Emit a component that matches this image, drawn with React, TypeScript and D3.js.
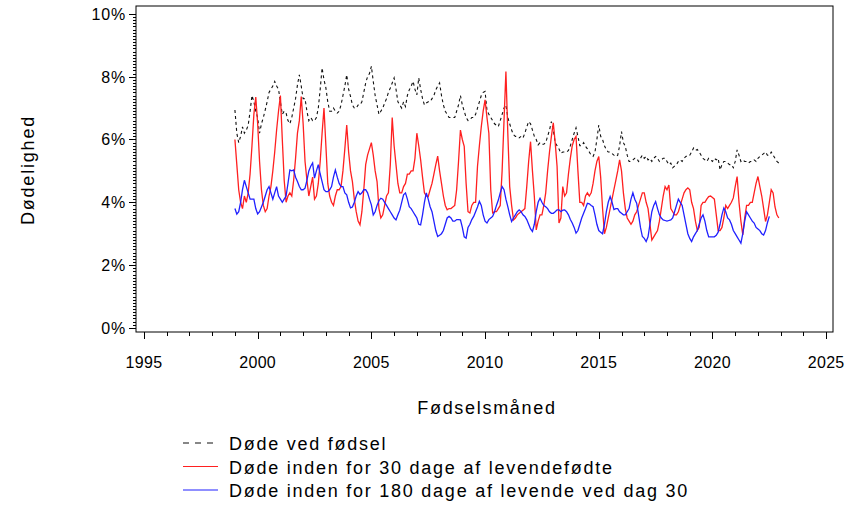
import React, { useEffect, useRef } from 'react'
import * as d3 from 'd3'

const START_YEAR = 1999

// monthly values in %, one row per year (Jan..Dec)
const stillborn = [
  6.94, 6.2, 5.9, 6.1, 6.4, 6.2, 6.3, 6.45, 6.9, 7.4, 7.2, 6.9, // 1999
  6.7, 6.2, 6.5, 6.7, 6.94, 7.2, 7.5, 7.6, 7.7, 7.85, 7.7, 7.6, // 2000
  7.2, 6.8, 6.9, 6.84, 6.6, 6.5, 6.7, 7.0, 7.3, 7.74, 8.06, 7.7, // 2001
  7.3, 7.3, 6.9, 6.6, 6.7, 6.6, 6.6, 6.7, 7.0, 7.6, 8.28, 7.9, // 2002
  7.64, 7.2, 6.9, 6.9, 7.0, 6.9, 6.84, 6.9, 7.1, 7.4, 7.7, 8.06, // 2003
  7.6, 7.37, 7.1, 7.0, 7.0, 7.1, 7.1, 7.2, 7.5, 7.8, 8.0, 8.1, // 2004
  8.33, 7.85, 7.4, 7.1, 6.8, 6.9, 7.0, 7.16, 7.3, 7.5, 7.64, 7.8, // 2005
  7.96, 7.6, 7.2, 7.1, 7.0, 7.2, 7.05, 7.4, 7.58, 7.7, 7.85, 7.6, // 2006
  7.42, 7.96, 7.6, 7.3, 7.1, 7.16, 7.2, 7.2, 7.3, 7.4, 7.58, 7.7, // 2007
  7.8, 7.4, 7.1, 6.9, 6.8, 6.7, 6.7, 6.7, 6.7, 6.9, 7.1, 7.4, // 2008
  7.1, 6.9, 6.7, 6.6, 6.62, 6.7, 6.7, 6.8, 7.0, 7.2, 7.4, 7.5, // 2009
  7.53, 6.94, 6.8, 6.7, 6.6, 6.5, 6.45, 6.41, 6.6, 6.8, 7.0, 7.1, // 2010
  6.7, 6.5, 6.3, 6.15, 6.1, 6.1, 6.05, 6.1, 6.05, 6.2, 6.4, 6.57, // 2011
  6.5, 6.3, 6.1, 6.0, 5.83, 5.9, 5.85, 5.85, 5.9, 6.1, 6.3, 6.57, // 2012
  6.3, 5.9, 5.8, 5.7, 5.56, 5.6, 5.6, 5.6, 5.65, 5.8, 6.0, 6.2, // 2013
  6.37, 6.1, 5.8, 5.8, 5.9, 5.78, 5.7, 5.6, 5.5, 5.46, 5.6, 6.0, // 2014
  6.46, 6.1, 6.0, 5.8, 5.67, 5.6, 5.6, 5.55, 5.5, 5.46, 5.5, 5.8, // 2015
  6.25, 5.9, 5.78, 5.5, 5.3, 5.3, 5.35, 5.4, 5.4, 5.3, 5.4, 5.5, // 2016
  5.4, 5.46, 5.35, 5.4, 5.3, 5.4, 5.46, 5.4, 5.3, 5.35, 5.4, 5.4, // 2017
  5.3, 5.2, 5.25, 5.1, 5.15, 5.2, 5.3, 5.35, 5.3, 5.4, 5.46, 5.5, // 2018
  5.5, 5.6, 5.73, 5.65, 5.68, 5.6, 5.5, 5.4, 5.35, 5.3, 5.4, 5.35, // 2019
  5.3, 5.4, 5.35, 5.4, 5.03, 5.2, 5.3, 5.3, 5.25, 5.2, 5.2, 5.1, // 2020
  5.3, 5.67, 5.5, 5.3, 5.35, 5.3, 5.3, 5.25, 5.3, 5.3, 5.35, 5.3, // 2021
  5.4, 5.46, 5.5, 5.55, 5.6, 5.5, 5.5, 5.6, 5.5, 5.4, 5.3, 5.25, // 2022
]

const within30 = [
  6.0, 5.2, 4.4, 4.0, 3.8, 4.2, 4.0, 4.3, 4.9, 5.8, 6.8, 7.35, // 1999
  6.5, 5.3, 4.4, 3.9, 3.7, 3.8, 4.2, 4.5, 5.0, 5.6, 6.3, 6.9, // 2000
  7.4, 6.0, 4.7, 4.0, 4.2, 4.3, 4.2, 4.7, 5.4, 6.2, 6.6, 7.37, // 2001
  6.5, 5.3, 4.7, 4.2, 4.5, 4.8, 4.1, 4.2, 4.6, 5.3, 6.2, 7.0, // 2002
  5.8, 4.6, 4.2, 4.0, 3.9, 4.2, 4.4, 4.4, 4.5, 5.0, 5.7, 6.46, // 2003
  5.6, 5.0, 4.66, 4.1, 3.7, 3.4, 3.28, 3.7, 4.4, 5.2, 5.5, 5.7, // 2004
  5.9, 5.5, 5.0, 4.66, 3.8, 3.5, 3.6, 3.9, 4.2, 4.3, 5.2, 6.7, // 2005
  5.8, 5.2, 4.6, 4.3, 4.3, 4.5, 4.6, 4.9, 4.9, 5.0, 5.0, 5.4, // 2006
  6.2, 5.8, 5.35, 4.8, 4.3, 4.2, 4.18, 4.4, 4.6, 4.9, 5.2, 5.47, // 2007
  5.0, 4.6, 4.2, 3.9, 3.76, 3.8, 3.8, 3.85, 3.9, 4.4, 5.3, 6.3, // 2008
  6.0, 5.78, 4.6, 3.7, 3.66, 3.9, 4.0, 4.0, 5.14, 5.8, 6.4, 6.9, // 2009
  7.26, 6.7, 6.2, 4.4, 3.66, 3.7, 3.7, 3.8, 3.9, 5.0, 6.6, 8.16, // 2010
  6.2, 4.5, 3.9, 3.44, 3.5, 3.6, 3.65, 3.7, 3.75, 3.8, 4.5, 5.3, // 2011
  5.93, 5.0, 4.18, 3.12, 3.4, 3.6, 3.6, 3.9, 4.3, 5.0, 5.6, 6.1, // 2012
  6.53, 5.9, 5.14, 3.34, 3.5, 4.5, 4.2, 4.3, 4.9, 5.4, 5.8, 6.0, // 2013
  6.1, 5.0, 4.0, 4.0, 3.9, 4.2, 4.3, 4.2, 4.3, 4.6, 5.0, 5.3, // 2014
  5.46, 4.8, 3.8, 3.0, 3.2, 3.5, 3.8, 4.1, 4.4, 4.7, 5.0, 5.35, // 2015
  5.0, 4.3, 3.8, 3.5, 3.4, 3.3, 3.4, 3.6, 3.7, 3.9, 4.1, 4.3, // 2016
  4.3, 4.0, 3.8, 3.3, 2.8, 2.9, 3.0, 3.1, 3.4, 3.8, 4.2, 4.5, // 2017
  4.4, 4.55, 3.8, 3.7, 3.6, 3.6, 3.7, 3.9, 4.1, 4.3, 4.4, 4.46, // 2018
  4.4, 4.0, 3.8, 3.4, 3.1, 3.2, 3.9, 4.0, 4.0, 4.1, 4.18, 4.2, // 2019
  4.15, 4.1, 3.6, 3.1, 3.1, 3.2, 3.5, 3.9, 3.8, 3.9, 4.0, 4.14, // 2020
  4.5, 4.82, 4.0, 3.4, 2.96, 3.5, 3.9, 3.9, 4.0, 4.0, 4.3, 4.6, // 2021
  4.82, 4.5, 4.2, 3.8, 3.39, 3.6, 4.0, 4.4, 4.3, 3.85, 3.6, 3.5, // 2022
]

const within180 = [
  3.8, 3.62, 3.7, 4.0, 4.4, 4.7, 4.5, 4.3, 4.1, 4.1, 4.1, 3.8, // 1999
  3.63, 3.7, 3.85, 4.0, 4.2, 4.4, 4.5, 4.3, 4.1, 4.3, 4.5, 4.2, // 2000
  4.1, 4.0, 4.1, 4.2, 4.6, 5.03, 5.0, 5.03, 4.8, 4.66, 4.5, 4.4, // 2001
  4.4, 4.45, 4.7, 5.0, 5.15, 5.25, 4.77, 5.0, 5.2, 4.9, 4.66, 4.4, // 2002
  4.34, 4.34, 4.4, 4.5, 4.8, 5.03, 4.8, 4.6, 4.5, 4.5, 4.3, 4.24, // 2003
  4.0, 3.82, 3.85, 4.0, 4.2, 4.34, 4.25, 4.3, 4.4, 4.4, 4.3, 4.1, // 2004
  3.92, 3.6, 3.7, 3.9, 4.05, 4.13, 4.1, 4.0, 3.9, 3.8, 3.7, 3.6, // 2005
  3.5, 3.44, 3.6, 3.75, 4.0, 4.24, 4.3, 4.1, 3.86, 3.8, 3.7, 3.6, // 2006
  3.5, 3.3, 3.28, 3.6, 4.0, 4.3, 4.1, 3.86, 3.7, 3.4, 3.1, 2.91, // 2007
  2.95, 3.0, 3.1, 3.3, 3.5, 3.55, 3.5, 3.4, 3.4, 3.45, 3.45, 3.44, // 2008
  3.2, 2.9, 2.86, 3.2, 3.3, 3.45, 3.55, 3.7, 3.85, 4.03, 3.9, 3.6, // 2009
  3.4, 3.34, 3.45, 3.5, 3.55, 3.7, 3.9, 4.07, 4.3, 4.5, 4.4, 4.1, // 2010
  3.86, 3.6, 3.39, 3.5, 3.6, 3.7, 3.76, 3.7, 3.6, 3.55, 3.45, 3.3, // 2011
  3.15, 3.07, 3.3, 3.7, 4.0, 4.13, 4.0, 3.9, 3.86, 3.8, 3.7, 3.65, // 2012
  3.65, 3.7, 3.76, 3.76, 3.7, 3.75, 3.76, 3.7, 3.6, 3.45, 3.34, 3.2, // 2013
  3.02, 3.1, 3.3, 3.5, 3.65, 3.8, 3.97, 3.95, 3.9, 3.86, 3.6, 3.3, // 2014
  3.1, 3.05, 3.0, 3.3, 3.7, 4.0, 4.18, 4.0, 3.77, 3.8, 3.8, 3.7, // 2015
  3.65, 3.6, 3.6, 3.7, 3.8, 4.1, 4.3, 4.1, 3.97, 3.6, 3.2, 2.91, // 2016
  2.85, 2.75, 2.9, 3.3, 3.7, 3.9, 4.02, 3.8, 3.6, 3.5, 3.44, 3.42, // 2017
  3.4, 3.42, 3.44, 3.5, 3.7, 3.9, 4.1, 4.0, 3.9, 3.6, 3.3, 3.0, // 2018
  2.85, 2.75, 2.9, 3.0, 3.1, 3.3, 3.5, 3.6, 3.4, 3.1, 2.9, 2.9, // 2019
  2.9, 2.9, 2.95, 3.05, 3.3, 3.6, 3.82, 3.7, 3.5, 3.44, 3.3, 3.1, // 2020
  3.0, 2.9, 2.8, 2.7, 3.0, 3.4, 3.7, 3.6, 3.5, 3.4, 3.34, 3.2, // 2021
  3.15, 3.1, 3.0, 2.96, 3.1, 3.35, 3.55, // 2022
]

const yTicks = [0, 2, 4, 6, 8, 10]
const xTicks = [1995, 2000, 2005, 2010, 2015, 2020, 2025]

const legendItems = [
  { label: 'Døde ved fødsel', values: stillborn, color: '#111', dash: '3,3' },
  { label: 'Døde inden for 30 dage af levendefødte', values: within30, color: '#ff2020', dash: null },
  { label: 'Døde inden for 180 dage af levende ved dag 30', values: within180, color: '#2020ff', dash: null },
]

const FONT = '"Liberation Sans", Arial, Helvetica, sans-serif'

export default function App() {
  const svgRef = useRef(null)

  useEffect(() => {
    const svg = d3.select(svgRef.current)
    svg.selectAll('*').remove()

    const left = 136
    const right = 833
    const top = 6
    const bottom = 332

    const x = d3.scaleLinear().domain([1994.65, 2025.3]).range([left, right])
    const y = d3.scaleLinear().domain([-0.13, 10.25]).range([bottom, top])

    // frame
    svg
      .append('rect')
      .attr('x', left)
      .attr('y', top)
      .attr('width', right - left)
      .attr('height', bottom - top)
      .attr('fill', 'none')
      .attr('stroke', '#000')
      .attr('stroke-width', 1)

    // y axis minor + major ticks
    const yMinor = d3.range(0, 100.5, 1).map((d) => d / 10)
    svg
      .append('g')
      .selectAll('line')
      .data(yMinor)
      .join('line')
      .attr('x1', left)
      .attr('x2', (d) => (Math.abs(d % 2) < 1e-6 ? left - 7 : left - 3))
      .attr('y1', (d) => Math.round(y(d)) + 0.5)
      .attr('y2', (d) => Math.round(y(d)) + 0.5)
      .attr('stroke', '#000')
      .attr('stroke-width', 1)

    svg
      .append('g')
      .selectAll('text')
      .data(yTicks)
      .join('text')
      .attr('x', left - 10)
      .attr('y', (d) => y(d) + 6)
      .attr('text-anchor', 'end')
      .attr('font-family', FONT)
      .attr('font-size', 16)
      .attr('letter-spacing', 0.8)
      .text((d) => `${d}%`)

    // x axis ticks (yearly minor, 5-yearly major)
    const xMinor = d3.range(1995, 2026)
    svg
      .append('g')
      .selectAll('line')
      .data(xMinor)
      .join('line')
      .attr('x1', (d) => Math.round(x(d)) + 0.5)
      .attr('x2', (d) => Math.round(x(d)) + 0.5)
      .attr('y1', bottom)
      .attr('y2', (d) => (d % 5 === 0 ? bottom + 7 : bottom + 4))
      .attr('stroke', '#000')
      .attr('stroke-width', 1)

    svg
      .append('g')
      .selectAll('text')
      .data(xTicks)
      .join('text')
      .attr('x', (d) => x(d))
      .attr('y', 368)
      .attr('text-anchor', 'middle')
      .attr('font-family', FONT)
      .attr('font-size', 16)
      .attr('letter-spacing', 0.3)
      .text((d) => d)

    // axis titles
    svg
      .append('text')
      .attr('transform', 'translate(34,170) rotate(-90)')
      .attr('text-anchor', 'middle')
      .attr('font-family', FONT)
      .attr('font-size', 18)
      .attr('letter-spacing', 1.8)
      .text('Dødelighed')

    svg
      .append('text')
      .attr('x', 487)
      .attr('y', 414)
      .attr('text-anchor', 'middle')
      .attr('font-family', FONT)
      .attr('font-size', 18)
      .attr('letter-spacing', 1.7)
      .text('Fødselsmåned')

    // series
    const line = d3
      .line()
      .x((d, i) => x(START_YEAR + i / 12))
      .y((d) => y(d))

    legendItems.forEach((s) => {
      svg
        .append('path')
        .attr('d', line(s.values))
        .attr('fill', 'none')
        .attr('stroke', s.color)
        .attr('stroke-width', s.dash ? 1.1 : 1.3)
        .attr('stroke-dasharray', s.dash)
    })

    // legend
    const legend = svg.append('g')
    legendItems.forEach((s, i) => {
      const ly = 443 + i * 23.5
      legend
        .append('line')
        .attr('x1', 183)
        .attr('x2', 218)
        .attr('y1', ly)
        .attr('y2', ly)
        .attr('stroke', s.color)
        .attr('stroke-width', 1.1)
        .attr('stroke-dasharray', s.dash ? '6,6' : null)
      legend
        .append('text')
        .attr('x', 229)
        .attr('y', ly + 7)
        .attr('font-family', FONT)
        .attr('font-size', 18)
        .attr('letter-spacing', 1.75)
        .text(s.label)
    })
  }, [])

  return (
    <svg
      ref={svgRef}
      width={854}
      height={513}
      style={{ position: 'absolute', left: 0, top: 0, background: '#fff' }}
    />
  )
}
